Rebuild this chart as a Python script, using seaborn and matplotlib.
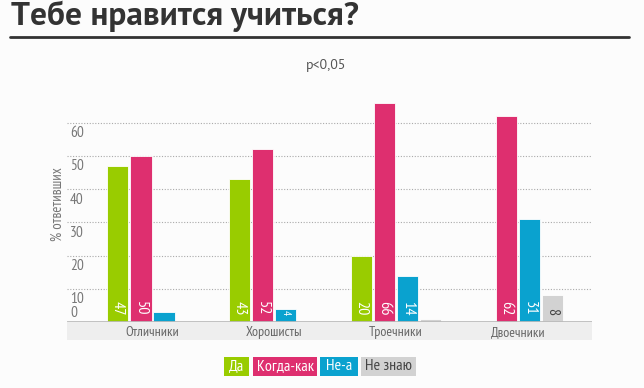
import numpy as np
import pandas as pd
import matplotlib
matplotlib.use("Agg")
import matplotlib.pyplot as plt
from matplotlib.patches import Rectangle
from matplotlib.lines import Line2D
import seaborn as sns

# chart data
groups = ["Отличники", "Хорошисты", "Троечники", "Двоечники"]
answers = ["Да", "Когда-как", "Не-а", "Не знаю"]
da = [47, 43, 20, 0]
kogda_kak = [50, 52, 66, 62]
ne_a = [3, 4, 14, 31]
ne_znayu = [0, 0, 1, 8]
y_ticks = [10, 20, 30, 40, 50, 60]
colors = ["#99cc00", "#de2f6f", "#0aa2cf", "#d2d2d2"]
label_colors = ["white", "white", "white", "#444444"]

df = pd.DataFrame({
    "group": groups * 4,
    "answer": np.repeat(answers, 4),
    "value": da + kogda_kak + ne_a + ne_znayu,
})

sns.set_theme(style="white")
plt.rcParams["font.family"] = ["PT Sans Narrow", "DejaVu Sans"]
wide = ["PT Sans", "DejaVu Sans"]

fig = plt.figure(figsize=(6.44, 3.88), dpi=100, facecolor="#fcfcfc")
ax = fig.add_axes([0.104, 0.170, 0.815, 0.573])
ax.set_facecolor("#fcfcfc")

sns.barplot(data=df, x="group", y="value", hue="answer", order=groups,
            hue_order=answers, palette=colors, saturation=1, width=0.76, gap=0.08,
            edgecolor="white", linewidth=0.6, legend=False, ax=ax)

ax.set_xlim(-0.702, 3.608)
ax.set_ylim(0, 67)
for s in ax.spines.values():
    s.set_visible(False)

# dotted gridlines and inside tick labels
for t in y_ticks:
    ax.axhline(t, color="#aaaaaa", lw=0.8, ls=(0, (1, 1.5)), zorder=0)
    ax.text(0.006, t - 1.0, str(t), transform=ax.get_yaxis_transform(),
            ha="left", va="top", fontsize=11, color="#777777")
ax.text(0.006, 0.6, "0", transform=ax.get_yaxis_transform(),
        ha="left", va="bottom", fontsize=11, color="#777777")
ax.set_yticks([])
ax.set_ylabel("")
ax.text(-0.017, 0.53, "% ответивших", transform=ax.transAxes, rotation=90,
        ha="center", va="center", fontsize=10.5, color="#777777")

# baseline and category band
ax.add_patch(Rectangle((0, -0.082), 1, 0.082, transform=ax.transAxes,
                       facecolor="#eeeeee", edgecolor="none", clip_on=False, zorder=0))
ax.axhline(0, color="#bbbbbb", lw=2, zorder=3)
ax.set_xlabel("")
ax.tick_params(axis="x", length=0, pad=3, labelsize=10, labelcolor="#666666")

# value labels inside bars
for container, col in zip(ax.containers, label_colors):
    for bar in container:
        v = bar.get_height()
        if v >= 4:
            ax.text(bar.get_x() + bar.get_width() / 2, 2.0, f"{v:.0f}",
                    rotation=270, ha="center", va="bottom",
                    fontsize=8 if v < 6 else 11.5, color=col, zorder=4)

# title, rule, subtitle
fig.text(11 / 644, 1 - 16 / 388, "Тебе нравится учиться?", fontsize=24,
         fontweight="bold", family=wide, color="#333333", ha="left", va="center")
fig.add_artist(Line2D([10 / 644, 629 / 644], [1 - 37 / 388, 1 - 37 / 388],
                      color="#333333", lw=2))
fig.text(326 / 644, 1 - 65 / 388, "p<0,05", fontsize=10, family=wide,
         color="#555555", ha="center", va="center")

# legend boxes
legend_x = [(224, 249), (253, 317), (320, 358), (361, 416)]
for (x0, x1), name, col, tc in zip(legend_x, answers, colors, label_colors):
    fig.add_artist(Rectangle((x0 / 644, 1 - 376 / 388), (x1 - x0) / 644, 19 / 388,
                             facecolor=col, edgecolor="none", transform=fig.transFigure))
    fig.text((x0 + x1) / 2 / 644, 1 - 366.5 / 388, name, fontsize=11.5,
             color=tc, ha="center", va="center")

fig.savefig("out.png", dpi=100, facecolor=fig.get_facecolor())
